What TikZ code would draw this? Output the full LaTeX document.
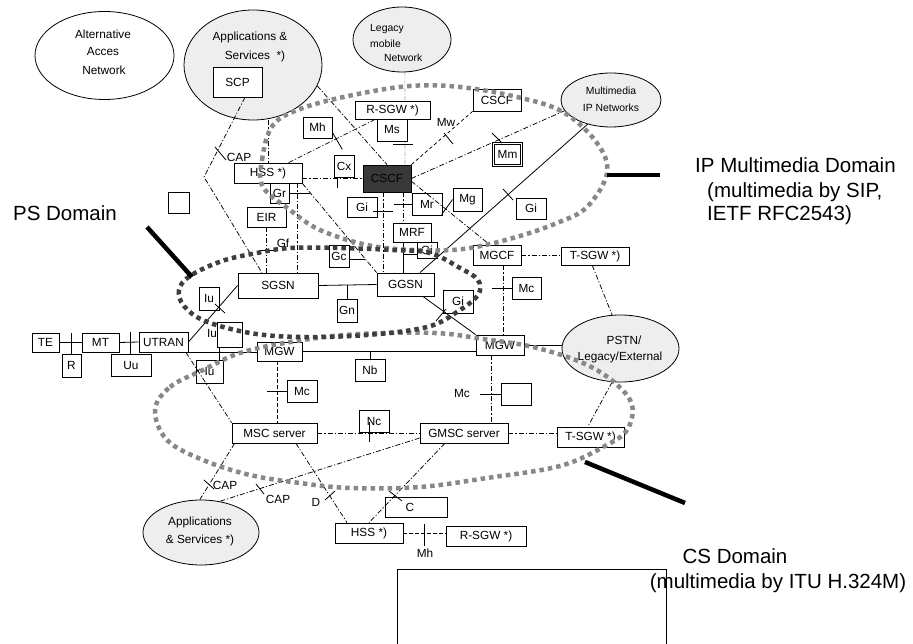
\documentclass[tikz,border=0pt]{standalone}
\usepackage{fontspec}
\setmainfont{Liberation Sans}
\usetikzlibrary{calc,shapes.geometric,backgrounds}
\definecolor{cloudfill}{RGB}{238,238,238}
\definecolor{cscffill}{RGB}{56,56,56}
\definecolor{imsdots}{RGB}{136,136,136}
\definecolor{psdots}{RGB}{62,62,62}
\definecolor{legacyline}{RGB}{160,160,160}
\begin{document}
\begin{tikzpicture}[x=1pt,y=-1pt,
  box/.style={draw,fill=white,line width=0.8pt,inner sep=0pt,font=\fontsize{11.8}{13}\selectfont},
  netcloud/.style={ellipse,draw,line width=0.8pt,fill=cloudfill,inner sep=0pt},
  ctext/.style={inner sep=0pt,font=\fontsize{11.8}{13}\selectfont},
  smalltxt/.style={inner sep=0pt,font=\fontsize{10.4}{12}\selectfont},
  lbl/.style={inner sep=0pt,font=\fontsize{11.8}{13}\selectfont},
  bigtxt/.style={inner sep=0pt,font=\fontsize{20.5}{24}\selectfont},
  solidlink/.style={line width=0.8pt},
  dd/.style={line width=0.75pt,dash pattern=on 5pt off 2pt on 1.2pt off 2pt},
  dsh/.style={line width=0.75pt,dash pattern=on 3.5pt off 2.5pt},
  legacy/.style={line width=0.7pt,draw=legacyline,dash pattern=on 4pt off 1.5pt on 1pt off 1.5pt},
  crossmark/.style={line width=0.8pt},
  zone/.style={line width=4.5pt,dash pattern=on 4.5pt off 4pt},
  pointer/.style={line width=4.5pt}
]
\useasboundingbox (0,0) rectangle (913,644);

% ---------- networks (ellipses) ----------
\node[netcloud,fill=white,minimum width=139pt,minimum height=88pt] (alt) at (104.5,55.5) {};
\node[netcloud,minimum width=138pt,minimum height=110pt] (apps) at (253,65) {};
\node[netcloud,minimum width=98pt,minimum height=65pt] (legacynet) at (402,39.5) {};
\node[netcloud,minimum width=100pt,minimum height=54pt] (mmip) at (611,100) {};
\node[netcloud,minimum width=117pt,minimum height=67pt] (pstn) at (620.5,348.5) {};
\node[netcloud,minimum width=116pt,minimum height=65pt] (appb) at (201,532.5) {};

\node[ctext] at (103,34) {Alternative};
\node[ctext] at (103,52) {Acces};
\node[ctext] at (104,70) {Network};
\node[ctext] at (250,37) {Applications \&};
\node[ctext] at (255,56) {Services\ \ *)};
\node[smalltxt,anchor=west] at (370,29) {Legacy};
\node[smalltxt,anchor=west] at (370,44) {mobile};
\node[smalltxt,anchor=west] at (384,58) {Network};
\node[smalltxt] at (611,91) {Multimedia};
\node[smalltxt] at (611,108) {IP Networks};
\node[ctext] at (624,340) {PSTN/};
\node[ctext] at (620,357) {Legacy/External};
\node[ctext] at (200,522) {Applications};
\node[ctext] at (200,540) {\& Services *)};

% ---------- functional entities ----------
\node[box,minimum width=49pt,minimum height=30pt] (scp) at (237.5,82) {SCP};
\node[box,minimum width=30pt,minimum height=22pt] (ms) at (392,130) {Ms};
\node[box,minimum width=75pt,minimum height=18pt] (rsgw) at (392.5,110) {R-SGW *)};
\node[box,minimum width=29pt,minimum height=21pt] (mh) at (317.5,127.5) {Mh};
\node[box,minimum width=48pt,minimum height=22pt] (cscf2) at (497,100) {CSCF};
\node[box,double,double distance=1.2pt,minimum width=28pt,minimum height=22pt] (mm) at (507.5,154.5) {Mm};
\node[box,minimum width=20pt,minimum height=22pt] (cx) at (344,166) {Cx};
\node[box,fill=cscffill,minimum width=48pt,minimum height=27pt] (cscf) at (387,178.5) {CSCF};
\node[box,minimum width=68pt,minimum height=20pt] (hss) at (268,173) {HSS *)};
\node[box,minimum width=19pt,minimum height=20pt] (gr) at (279.5,193) {Gr};
\node[box,minimum width=39pt,minimum height=20pt] (eir) at (266.5,217) {EIR};
\node[box,minimum width=21pt,minimum height=21pt] (spare) at (178.5,202.5) {};
\node[box,minimum width=30pt,minimum height=20pt] (gia) at (362,207) {Gi};
\node[box,minimum width=30pt,minimum height=22pt] (mr) at (427,204) {Mr};
\node[box,minimum width=29pt,minimum height=23pt] (mg) at (467.5,199.5) {Mg};
\node[box,minimum width=30pt,minimum height=21pt] (gib) at (531,208.5) {Gi};
\node[box,minimum width=38pt,minimum height=19pt] (mrf) at (412,232.5) {MRF};
\node[box,minimum width=20pt,minimum height=16pt] (gic) at (427,250) {Gi};
\node[box,minimum width=48pt,minimum height=20pt] (mgcf) at (497,255) {MGCF};
\node[box,minimum width=68pt,minimum height=18pt] (tsgwa) at (595,256) {T-SGW *)};
\node[box,minimum width=29pt,minimum height=22pt] (mca) at (526.5,288) {Mc};
\node[box,minimum width=57pt,minimum height=23pt] (ggsn) at (405.5,284.5) {GGSN};
\node[box,minimum width=20pt,minimum height=22pt] (gc) at (339,256) {Gc};
\node[box,minimum width=80pt,minimum height=25pt] (sgsn) at (278,285.5) {SGSN};
\node[box,minimum width=20pt,minimum height=23pt] (gn) at (347,310.5) {Gn};
\node[box,minimum width=30pt,minimum height=23pt] (gid) at (458,301.5) {Gi};
\node[box,minimum width=20pt,minimum height=23pt] (iua) at (209,298.5) {Iu};
\node[box,minimum width=25pt,minimum height=25pt] (iub) at (229.5,334.5) {};
\node[box,minimum width=27pt,minimum height=23pt] (iuc) at (209.5,371.5) {Iu};
\node[box,minimum width=27pt,minimum height=19pt] (te) at (45.5,342.5) {TE};
\node[box,minimum width=19pt,minimum height=23pt] (r) at (71.5,365.5) {R};
\node[box,minimum width=37pt,minimum height=19pt] (mt) at (100.5,342.5) {MT};
\node[box,minimum width=40pt,minimum height=22pt] (uu) at (131,365) {Uu};
\node[box,minimum width=49pt,minimum height=20pt] (utran) at (163.5,342) {UTRAN};
\node[box,minimum width=45pt,minimum height=19pt] (mgwa) at (279.5,351.5) {MGW};
\node[box,minimum width=48pt,minimum height=20pt] (mgwb) at (500,345) {MGW};
\node[box,minimum width=30pt,minimum height=22pt] (nb) at (370,370) {Nb};
\node[box,minimum width=30pt,minimum height=22pt] (mcb) at (302,391) {Mc};
\node[box,minimum width=30pt,minimum height=22pt] (mcc) at (516,394) {};
\node[box,minimum width=85pt,minimum height=20pt] (msc) at (274.5,433) {MSC server};
\node[box,minimum width=88pt,minimum height=20pt] (gmsc) at (464,433) {GMSC server};
\node[box,minimum width=67pt,minimum height=20pt] (tsgwb) at (590.5,437) {T-SGW *)};
\node[box,minimum width=30pt,minimum height=22pt] (nc) at (374,421) {Nc};
\node[box,minimum width=62pt,minimum height=20pt] (cbox) at (416,507) {};
\node[box,minimum width=68pt,minimum height=20pt] (hssb) at (369,533) {HSS *)};
\node[box,minimum width=80pt,minimum height=20pt] (rsgwb) at (486,536) {R-SGW *)};

% open frame at the foot of the sheet
\draw[line width=0.8pt] (397,648) -- (397,569) -- (666,569) -- (666,648);

% ---------- interfaces ----------
\begin{scope}[on background layer]
  \draw[legacy] (legacynet.-85) -- ($(cscf.north)+(18,0)$);
\end{scope}

\coordinate (capbend) at (204,177);
\draw[dd] ($(scp.south west)!0.65!(scp.south east)$) -- (capbend) -- ($(sgsn.north west)!0.3!(sgsn.north east)$);
\draw[dd] (apps.south -| hss.north) -- (hss.north);
\draw[dd] (apps.-18) -- (cscf.north);
\draw[dd] ($(hss.north)!0.6!(hss.north east)$) -- ($(rsgw.south west)!0.27!(rsgw.south east)$);
\draw[dd] (hss.east |- cscf.west) -- (cscf.west);
\draw[dsh] (cscf.north east) -- (cscf2.south west);
\draw[dd] (cscf.east) -- (mmip.193);
\draw[dd] ($(cscf.south east)!0.4!(cscf.north east)$) -- ($(mgcf.north west)!0.35!(mgcf.north east)$);
\draw[solidlink] (mmip.-134) -- ($(ggsn.north west)!0.75!(ggsn.north east)$);

\coordinate (cg) at ($(cscf.south)+(-4,0)$);
\draw[dd] (cg) -- (cg |- ggsn.north);
\coordinate (cm) at ($(cscf.south)+(16,0)$);
\draw[dd] (cm) -- (cm |- mrf.north);
\coordinate (mg0) at ($(mrf.south)+(-9,0)$);
\draw[solidlink] (mg0) -- (mg0 |- ggsn.north);
\coordinate (hs) at ($(hss.south)+(29,0)$);
\draw[dd] (hs) -- (hs |- sgsn.north);
\draw[dd] (hss.south east) -- (ggsn.north west);
\draw[dd] (eir.south) -- (eir.south |- sgsn.north);

\draw[solidlink] (sgsn.east) -- (ggsn.west);
\draw[solidlink] (utran.east) -- (sgsn.west);
\draw[solidlink] (utran.south east) -- (utran.south east -| mgwa.west);
\draw[solidlink] (mgwa.east) -- (mgwa.east -| mgwb.west);
\draw[solidlink] (mgwb.east) -- (mgwb.east -| pstn.west);
\draw[solidlink] ($(ggsn.south west)!0.8!(ggsn.south east)$) -- (mgwb.north west);
\draw[solidlink] (te.east) -- (mt.west);
\draw[solidlink] (mt.east) -- (utran.west);

\draw[dd] (mgcf.east) -- (mgcf.east -| tsgwa.west);
\draw[dd] ($(tsgwa.south west)!0.46!(tsgwa.south east)$) -- (pstn.104);
\coordinate (mc0) at ($(mgcf.south)+(6,0)$);
\draw[dd] (mc0) -- (mc0 |- mgwb.north);
\coordinate (mw0) at ($(mgwb.south)+(-9,0)$);
\draw[dd] (mw0) -- (mw0 |- gmsc.north);
\coordinate (ma0) at ($(mgwa.south)+(-2.5,0)$);
\draw[dsh] (ma0) -- (ma0 |- msc.north);
\draw[dd] ($(utran.south west)!0.95!(utran.south east)$) -- (msc.north west);
\draw[dd] (msc.east) -- (gmsc.west);
\draw[dd] (gmsc.east) -- (gmsc.east -| tsgwb.west);
\draw[dd] (pstn.-104) -- ($(tsgwb.north west)!0.46!(tsgwb.north east)$);
\draw[dd] ($(msc.south west)!0.035!(msc.south east)$) -- (appb.92);
\draw[dd] ($(gmsc.west)+(0,5)$) -- (appb.59);
\draw[dd] ($(msc.south west)!0.75!(msc.south east)$) -- ($(hssb.north west)!0.18!(hssb.north east)$);
\draw[dd] ($(gmsc.south west)!0.284!(gmsc.south east)$) -- (hssb.north);
\draw[dsh] (hssb.east) -- (hssb.east -| rsgwb.west);

% ---------- reference point marks ----------
\draw[crossmark] (215,147) -- (226,160);
\draw[crossmark] ($(mh.east)+(0,5)$) -- ++(10,17);
\draw[crossmark] (393,144) -- (413,144);
\draw[crossmark] (444,133) -- (453,144);
\draw[crossmark] (492,133) -- (502,143);
\draw[crossmark] ($(cx.south)+(-7,0)$) -- ++(0,11);
\draw[crossmark] (gr.east) -- ++(21,0);
\draw[crossmark] (373,211) -- (393,211);
\draw[crossmark] (mr.west) -- ++(-18,0);
\draw[crossmark] (mg.west) -- ++(-11,15);
\draw[crossmark] (503,189) -- (513,200);
\draw[crossmark] ($(gic.west)+(0,4)$) -- ++(-14,0);
\draw[crossmark] ($(gc.east)+(0,3)$) -- ++(16,0);
\draw[crossmark] (259,250) -- (276,250);
\draw[crossmark] (gn.north) -- (gn.north |- sgsn.east);
\draw[crossmark] (215,304) -- (225,313);
\draw[crossmark] ($(iub.south)+(-10,0)$) -- ++(0,13);
\draw[crossmark] (192,375) -- (200,369);
\draw[crossmark] (mca.west) -- ++(-20,0);
\draw[crossmark] (436,321) -- (446,309);
\draw[crossmark] (nb.north) -- (nb.north |- mgwa.east);
\draw[crossmark] (mcb.west) -- ++(-20,0);
\draw[crossmark] (mcc.west) -- ++(-21,0);
\draw[crossmark] (369,422) -- (369,442);
\draw[crossmark] (204,480) -- (214,489);
\draw[crossmark] (256,484) -- (264,494);
\draw[crossmark] (325,500) -- (335,491);
\draw[crossmark] (389,491) -- (402,501);
\draw[crossmark] (424,524) -- (424,546);
\draw[crossmark] (r.north) -- ++(0,-21);
\draw[crossmark] ($(uu.north)+(-1,0)$) -- ++(0,-22);

\node[lbl] at (239,157) {CAP};
\node[lbl] at (446,122) {Mw};
\node[lbl] at (283,243) {Gf};
\node[lbl] at (212,333) {Iu};
\node[lbl] at (462,393) {Mc};
\node[lbl] at (225,485) {CAP};
\node[lbl] at (278,499) {CAP};
\node[lbl] at (316,502) {D};
\node[lbl] at (410,507) {C};
\node[lbl] at (425,553) {Mh};

% ---------- domain outlines ----------
\draw[zone,draw=imsdots] plot[smooth cycle,tension=0.6] coordinates {
  (263,187) (262,160) (273,125) (303,108) (353,95) (410,86) (460,87) (517,97)
  (563,112) (597,143) (607,173) (587,207) (557,223) (513,238) (463,249)
  (413,250) (367,245) (320,230) (290,210)};
\draw[zone,draw=imsdots] plot[smooth cycle,tension=0.6] coordinates {
  (155,410) (170,387) (203,370) (243,352) (303,340) (360,334) (435,333) (483,339)
  (533,347) (583,363) (615,383) (632,405) (627,430) (605,446) (560,466)
  (487,478) (420,487) (350,488) (300,483) (250,475) (203,460) (167,440)};
\draw[zone,draw=psdots] plot[smooth cycle,tension=0.6] coordinates {
  (190,276) (179,290) (184,306) (205,321) (250,333) (300,337) (367,335) (427,327)
  (457,312) (478,295) (478,280) (460,268) (430,253) (393,250) (340,248)
  (290,248) (257,253) (222,261)};

% ---------- domain captions ----------
\draw[pointer] (147,227) -- (192,277);
\draw[pointer] (607,175) -- (660,175);
\draw[pointer] (585,462) -- (685,503);

\node[bigtxt] at (65,213) {PS Domain};
\node[bigtxt,anchor=west] at (695,165) {IP Multimedia Domain};
\node[bigtxt,anchor=west] at (707,192) {(multimedia by SIP,};
\node[bigtxt,anchor=west] at (707,215) {IETF RFC2543)};
\node[bigtxt] at (735,556) {CS Domain};
\node[bigtxt] at (778,583) {(multimedia by ITU H.324M)};
\end{tikzpicture}
\end{document}
